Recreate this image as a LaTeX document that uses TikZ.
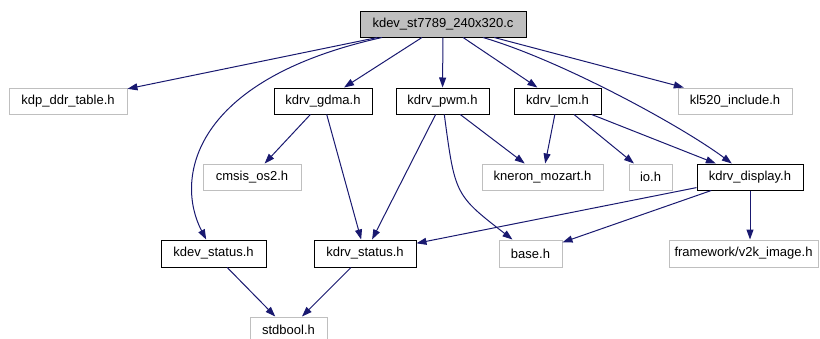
\documentclass[tikz,border=0pt]{standalone}
\usepackage{fontspec}
\setmainfont{Liberation Sans}
\usetikzlibrary{arrows.meta}

\definecolor{incblue}{HTML}{191970}
\definecolor{incgrey}{HTML}{BFBFBF}
\definecolor{rootfill}{HTML}{BFBFBF}

\tikzset{
  hdr/.style={draw=incgrey, line width=1pt, inner sep=0pt, minimum height=26pt,
    font=\fontsize{13}{15}\selectfont},
  hdrdoc/.style={hdr, draw=black},
  incl/.style={draw=incblue, line width=1pt, -{Triangle[length=10pt,width=7pt]}, incblue}
}

\begin{document}
\begin{tikzpicture}[x=1pt, y=-1pt]
\useasboundingbox (0,0) rectangle (820,338);

% the source file and its headers
\node[hdrdoc, fill=rootfill, minimum width=166pt] (root) at (443,24) {kdev\_st7789\_240x320.c};

\node[hdr, minimum width=118pt] (ddr) at (68,101) {kdp\_ddr\_table.h};
\node[hdrdoc, minimum width=98pt] (gdma) at (323,101) {kdrv\_gdma.h};
\node[hdrdoc, minimum width=93pt] (pwm) at (442.5,101) {kdrv\_pwm.h};
\node[hdrdoc, minimum width=87pt] (lcm) at (557.5,101) {kdrv\_lcm.h};
\node[hdr, minimum width=114pt] (kl) at (735,101) {kl520\_include.h};

\node[hdr, minimum width=98pt] (cmsis) at (252,177) {cmsis\_os2.h};
\node[hdr, minimum width=121pt] (mozart) at (542.5,177) {kneron\_mozart.h};
\node[hdr, minimum width=43pt] (io) at (650.5,177) {io.h};
\node[hdrdoc, minimum width=106pt] (display) at (750,177) {kdrv\_display.h};

\node[hdrdoc, minimum width=105pt, minimum height=27pt] (devstatus) at (213.5,253.5) {kdev\_status.h};
\node[hdrdoc, minimum width=102pt, minimum height=27pt] (drvstatus) at (365,253.5) {kdrv\_status.h};
\node[hdr, minimum width=63pt, minimum height=27pt] (base) at (530.5,253.5) {base.h};
\node[hdr, minimum width=149pt, minimum height=27pt] (v2k) at (743.5,253.5) {framework/v2k\_image.h};

\node[hdr, minimum width=77pt] (stdbool) at (288.5,330) {stdbool.h};

% includes
\draw[incl] (root) -- (ddr);
\draw[incl] (root) .. controls (190,80) and (175,180) .. (devstatus);
\draw[incl] (root) -- (gdma);
\draw[incl] (root) -- (pwm);
\draw[incl] (root) -- (lcm);
\draw[incl] (root) -- (kl);
\draw[incl] ([xshift=40pt]root.south) .. controls (560,60) and (680,125) .. (display);

\draw[incl] (gdma) -- (cmsis);
\draw[incl] (gdma) -- (drvstatus);

\draw[incl] (pwm) -- (drvstatus);
\draw[incl] (pwm) .. controls (455,195) .. (base);
\draw[incl] (pwm) -- (mozart);

\draw[incl] (lcm) -- (mozart);
\draw[incl] (lcm) -- (io);
\draw[incl] (lcm) -- (display);

\draw[incl] (display) -- (drvstatus);
\draw[incl] (display) -- (base);
\draw[incl] (display) -- (display |- v2k.north);

\draw[incl] (devstatus) -- (stdbool);
\draw[incl] (drvstatus) -- (stdbool);

\end{tikzpicture}
\end{document}
